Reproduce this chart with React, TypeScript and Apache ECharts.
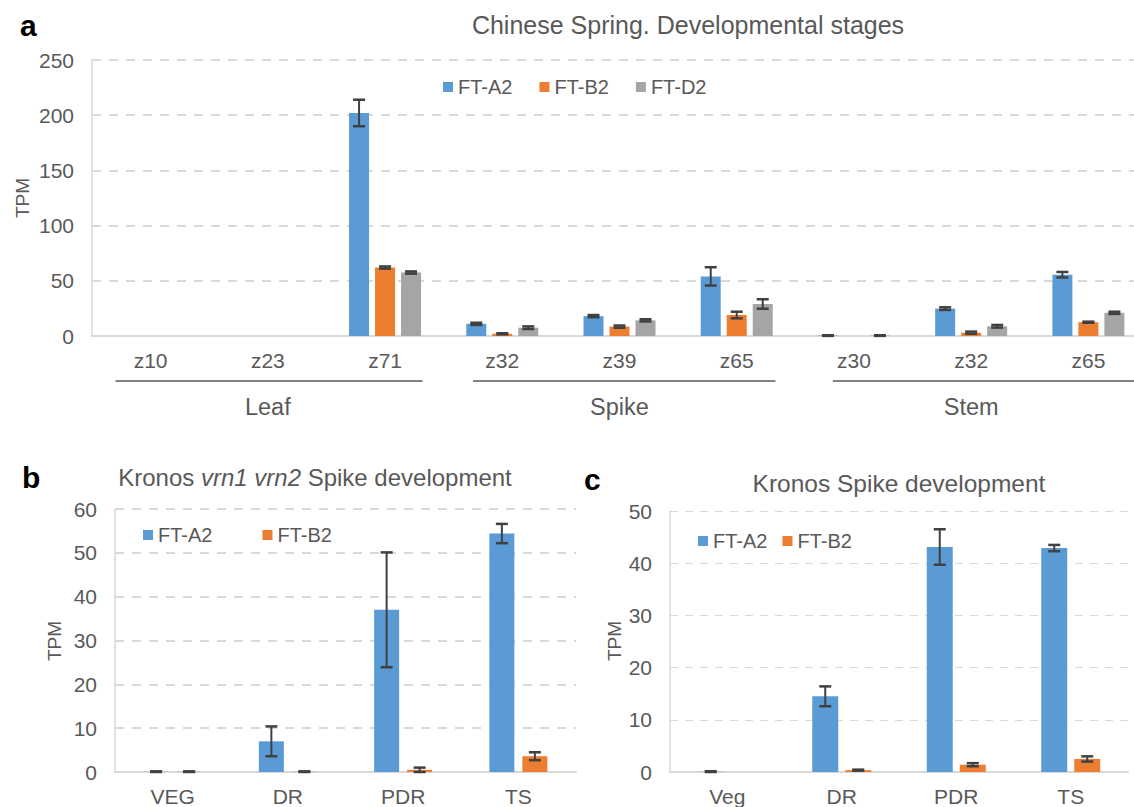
import React, { useEffect, useRef } from "react";
import * as echarts from "echarts";

// ---------- Data ----------
// Panel a: Chinese Spring developmental stages
const A_STAGES = ["z10", "z23", "z71", "z32", "z39", "z65", "z30", "z32", "z65"];
const A_TISSUES = ["Leaf", "Spike", "Stem"];
const A_TISSUE_SPANS = [[0, 2], [3, 5], [6, 8]];
const A_FTA2 = [null, null, 202, 11, 18, 54, 0.4, 24.8, 55.5];
const A_FTA2_ERR = [null, null, 12, 1, 1, 8.3, 0.3, 1.2, 2.5];
const A_FTB2 = [null, null, 62, 2, 8.5, 19, null, 3, 12.5];
const A_FTB2_ERR = [null, null, 1, 0.5, 1, 3, null, 1, 0.5];
const A_FTD2 = [null, null, 57.5, 7.5, 14.2, 29, 0.4, 8.8, 21];
const A_FTD2_ERR = [null, null, 1, 1.2, 1, 4.3, 0.3, 1.2, 1];

// Panel b: Kronos vrn1 vrn2 spike development
const B_STAGES = ["VEG", "DR", "PDR", "TS"];
const B_FTA2 = [0.05, 7, 37, 54.4];
const B_FTA2_ERR = [0.1, 3.4, 13.1, 2.2];
const B_FTB2 = [0.05, 0.05, 0.5, 3.6];
const B_FTB2_ERR = [0.1, 0.1, 0.5, 0.9];

// Panel c: Kronos spike development
const C_STAGES = ["Veg", "DR", "PDR", "TS"];
const C_FTA2 = [0.05, 14.5, 43.1, 42.9];
const C_FTA2_ERR = [0.1, 1.9, 3.4, 0.6];
const C_FTB2 = [null, 0.35, 1.4, 2.5];
const C_FTB2_ERR = [null, 0.1, 0.3, 0.5];

const SERIES_NAMES = ["FT-A2", "FT-B2", "FT-D2"];

// ---------- Styles ----------
const FONT = "Liberation Sans, Arial, Helvetica, sans-serif";
const TXT = "#595959";
const COLORS = ["#5b9bd5", "#ed7d31", "#a5a5a5"];
const GRID_LINE = "#d9d9d9";
const ERR_COLOR = "#404040";
// fractions of a category width by which each tissue underline reaches past its end categories
const GROUP_LINE_START = [0.3, 0.25, 0.18];
const GROUP_LINE_END = [0.32, 0.33, 0.5];

function barSeries(name, data, color, xi, barWidth, barGap) {
  return {
    type: "bar",
    name,
    xAxisIndex: xi,
    yAxisIndex: xi,
    data,
    barWidth,
    barGap,
    itemStyle: { color },
    z: 2,
  };
}

function errSeries(tag, values, errs, xi, idx, n, barWidth, gapPx) {
  const data = [];
  values.forEach((v, i) => {
    if (v != null && errs[i] != null) data.push([i, v, errs[i]]);
  });
  return {
    type: "custom",
    name: tag,
    xAxisIndex: xi,
    yAxisIndex: xi,
    data,
    z: 5,
    encode: { x: 0, y: 1 },
    renderItem: (params, api) => {
      const x = api.value(0);
      const v = api.value(1);
      const e = api.value(2);
      const off = (idx - (n - 1) / 2) * (barWidth + gapPx);
      const top = api.coord([x, v + e]);
      const bot = api.coord([x, Math.max(v - e, 0)]);
      const cx = top[0] + off;
      const hw = 6;
      const style = { stroke: ERR_COLOR, lineWidth: 2 };
      const capStyle = { stroke: ERR_COLOR, lineWidth: 2.5 };
      return {
        type: "group",
        children: [
          { type: "line", shape: { x1: cx, y1: top[1], x2: cx, y2: bot[1] }, style },
          { type: "line", shape: { x1: cx - hw, y1: top[1], x2: cx + hw, y2: top[1] }, style: capStyle },
          { type: "line", shape: { x1: cx - hw, y1: bot[1], x2: cx + hw, y2: bot[1] }, style: capStyle },
        ],
      };
    },
  };
}

function yAxisOf(gi, max, interval, dash, lw) {
  return {
    type: "value",
    gridIndex: gi,
    min: 0,
    max,
    interval,
    axisLine: { show: true, lineStyle: { color: GRID_LINE, width: 1.5 } },
    axisTick: { show: false },
    axisLabel: { color: TXT, fontSize: 21, fontFamily: FONT, margin: 18 },
    splitLine: { show: true, lineStyle: { color: GRID_LINE, width: lw, type: dash } },
  };
}

function xAxisOf(gi, data) {
  return {
    type: "category",
    gridIndex: gi,
    data,
    axisLine: { show: true, lineStyle: { color: GRID_LINE, width: 2 } },
    axisTick: { show: false },
    axisLabel: { color: TXT, fontSize: 21, fontFamily: FONT, margin: 14, interval: 0 },
  };
}

function legendOf(left, top, names, gap) {
  return {
    left,
    top,
    padding: 0,
    itemGap: gap,
    itemWidth: 10,
    itemHeight: 10,
    icon: "rect",
    data: names,
    textStyle: { color: TXT, fontSize: 20, fontFamily: FONT, lineHeight: 20 },
  };
}

function textG(text, x, y, size, opts = {}) {
  return {
    type: "text",
    x,
    y,
    rotation: opts.rotation || 0,
    style: {
      text,
      fill: opts.fill || TXT,
      fontSize: size,
      fontFamily: FONT,
      fontWeight: opts.bold ? "bold" : "normal",
      textAlign: opts.align || "center",
      align: opts.align || "center",
      textVerticalAlign: "middle",
      verticalAlign: "middle",
      rich: opts.rich,
    },
  };
}

export default function App() {
  const ref = useRef(null);

  useEffect(() => {
    document.body.style.margin = "0";
    document.body.style.overflow = "hidden";
    document.documentElement.style.overflow = "hidden";
    const chart = echarts.init(ref.current, null, { renderer: "svg" });

    const AW = 20, AG = 6;
    const BW = 25, BG = 8;
    const CW = 26, CG = 7;

    const option = {
      animation: false,
      textStyle: { fontFamily: FONT },
      grid: [
        { left: 92, top: 60, width: 1055, height: 276 },
        { left: 115, top: 509, width: 461, height: 264 },
        { left: 670, top: 511, width: 458, height: 261 },
      ],
      xAxis: [xAxisOf(0, A_STAGES), xAxisOf(1, B_STAGES), xAxisOf(2, C_STAGES)],
      yAxis: [
        yAxisOf(0, 250, 50, [9, 8], 2),
        yAxisOf(1, 60, 10, [9, 8], 2),
        yAxisOf(2, 50, 10, [8, 7], 1.2),
      ],
      legend: [
        legendOf(443, 77, ["FT-A2", "FT-B2", "FT-D2"], 27),
        legendOf(143, 525, ["FT-A2", "FT-B2"], 50),
        legendOf(698, 531, ["FT-A2", "FT-B2"], 15),
      ],
      series: [
        barSeries(SERIES_NAMES[0], A_FTA2, COLORS[0], 0, AW, (AG / AW) * 100 + "%"),
        barSeries(SERIES_NAMES[1], A_FTB2, COLORS[1], 0, AW, (AG / AW) * 100 + "%"),
        barSeries(SERIES_NAMES[2], A_FTD2, COLORS[2], 0, AW, (AG / AW) * 100 + "%"),
        errSeries("errA_A2", A_FTA2, A_FTA2_ERR, 0, 0, 3, AW, AG),
        errSeries("errA_B2", A_FTB2, A_FTB2_ERR, 0, 1, 3, AW, AG),
        errSeries("errA_D2", A_FTD2, A_FTD2_ERR, 0, 2, 3, AW, AG),

        barSeries(SERIES_NAMES[0], B_FTA2, COLORS[0], 1, BW, (BG / BW) * 100 + "%"),
        barSeries(SERIES_NAMES[1], B_FTB2, COLORS[1], 1, BW, (BG / BW) * 100 + "%"),
        errSeries("errB_A2", B_FTA2, B_FTA2_ERR, 1, 0, 2, BW, BG),
        errSeries("errB_B2", B_FTB2, B_FTB2_ERR, 1, 1, 2, BW, BG),

        barSeries(SERIES_NAMES[0], C_FTA2, COLORS[0], 2, CW, (CG / CW) * 100 + "%"),
        barSeries(SERIES_NAMES[1], C_FTB2, COLORS[1], 2, CW, (CG / CW) * 100 + "%"),
        errSeries("errC_A2", C_FTA2, C_FTA2_ERR, 2, 0, 2, CW, CG),
        errSeries("errC_B2", C_FTB2, C_FTB2_ERR, 2, 1, 2, CW, CG),
      ],
    };
    chart.setOption(option);

    // Graphics: panel letters, titles, axis names, tissue group lines
    const px = (i) => chart.convertToPixel({ xAxisIndex: 0 }, i);
    const w = px(1) - px(0);
    const groupY = 381;
    const gfx = [
      textG("a", 20, 25, 30, { bold: true, fill: "#000", align: "left" }),
      textG("b", 22, 477, 30, { bold: true, fill: "#000", align: "left" }),
      textG("c", 584, 479, 30, { bold: true, fill: "#000", align: "left" }),
      textG("Chinese Spring. Developmental stages", 688, 25, 25),
      textG("Kronos {i|vrn1 vrn2} Spike development", 315, 477, 24, {
        rich: { i: { fontStyle: "italic", fontSize: 24, fontFamily: FONT, fill: TXT } },
      }),
      textG("Kronos Spike development", 899, 483, 24.5),
      textG("TPM", 22, 198, 19, { rotation: Math.PI / 2 }),
      textG("TPM", 54, 641, 19, { rotation: Math.PI / 2 }),
      textG("TPM", 614, 641, 19, { rotation: Math.PI / 2 }),
    ];
    A_TISSUE_SPANS.forEach(([s, e], k) => {
      const x1 = px(s) - GROUP_LINE_START[k] * w;
      const x2 = px(e) + GROUP_LINE_END[k] * w;
      gfx.push({
        type: "line",
        shape: { x1, y1: groupY, x2, y2: groupY },
        style: { stroke: "#595959", lineWidth: 1.5 },
      });
      const mid = px(Math.round((s + e) / 2));
      gfx.push(textG(A_TISSUES[k], mid, 407, 23.5));
    });
    chart.setOption({ graphic: gfx });

    return () => chart.dispose();
  }, []);

  return <div ref={ref} style={{ width: 1160, height: 807 }} />;
}
